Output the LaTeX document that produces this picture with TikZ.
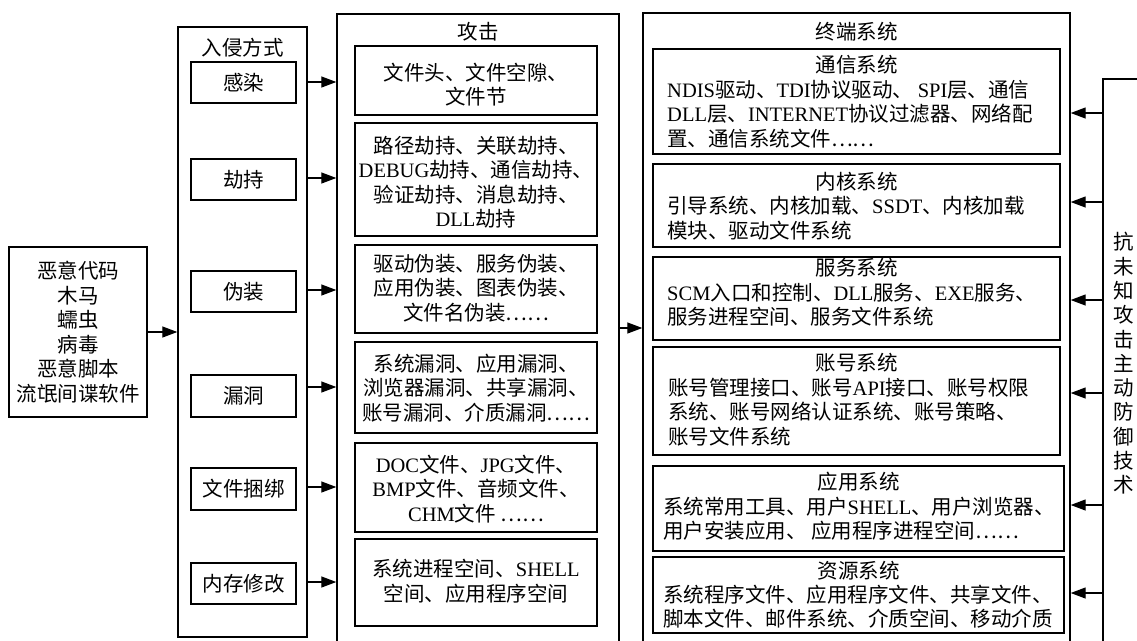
\documentclass[tikz,border=0pt]{standalone}
\usepackage{fontspec}
\setmainfont{Noto Sans CJK SC}
\newfontfamily\latfont{Liberation Serif}
\newcommand\E[1]{{\latfont #1}}
\usetikzlibrary{arrows.meta}
\begin{document}
\begin{tikzpicture}[x=1pt,y=-1pt,
  box/.style={draw,line width=1.4pt,inner sep=0pt},
  txt/.style={inner sep=0pt,font=\fontsize{20.5}{24.5}\selectfont},
  arr/.style={line width=1.3pt,-{Triangle[length=15pt,width=11pt]}}]
\clip (0,0) rectangle (1137,640);
% malware box
\node[box,txt,align=center,minimum width=138pt,minimum height=170pt] (mal) at (78,332)
  {恶意代码\\木马\\蠕虫\\病毒\\恶意脚本\\流氓间谍软件};
% intrusion column
\node[box,minimum width=129pt,minimum height=610pt] (qin) at (242.5,332) {};
\node[txt] (qint) at (242.5,48) {入侵方式};
\node[box,txt,minimum width=105pt,minimum height=41pt] (q1) at (243.5,82.5) {感染};
\node[box,txt,minimum width=105pt,minimum height=41pt] (q2) at (243.5,179.5) {劫持};
\node[box,txt,minimum width=105pt,minimum height=41pt] (q3) at (243.5,291.5) {伪装};
\node[box,txt,minimum width=105pt,minimum height=42pt] (q4) at (243.5,396) {漏洞};
\node[box,txt,minimum width=105pt,minimum height=42pt] (q5) at (243.5,489) {文件捆绑};
\node[box,txt,minimum width=105pt,minimum height=41pt] (q6) at (243.5,583.5) {内存修改};
% attack column
\node[box,minimum width=282pt,minimum height=646pt] (gong) at (478,337) {};
\node[txt] (gongt) at (478,32) {攻击};
\node[box,minimum width=242pt,minimum height=69pt] (g1) at (476,80.5) {};
\node[txt,align=center] (g1t) at (476,84.5) {文件头、文件空隙、\\文件节};
\node[box,minimum width=242pt,minimum height=113pt] (g2) at (476,179.5) {};
\node[txt,align=center] (g2t) at (476,182) {路径劫持、关联劫持、\\\E{DEBUG}劫持、通信劫持、\\验证劫持、消息劫持、\\\E{DLL}劫持};
\node[box,minimum width=242pt,minimum height=88pt] (g3) at (476,289) {};
\node[txt,align=center] (g3t) at (476,288) {驱动伪装、服务伪装、\\应用伪装、图表伪装、\\文件名伪装……};
\node[box,minimum width=242pt,minimum height=91pt] (g4) at (476,387.5) {};
\node[txt,align=center] (g4t) at (476,388) {系统漏洞、应用漏洞、\\浏览器漏洞、共享漏洞、\\账号漏洞、介质漏洞……};
\node[box,minimum width=242pt,minimum height=89pt] (g5) at (476,487.5) {};
\node[txt,align=center] (g5t) at (476,489) {\E{DOC}文件、\E{JPG}文件、\\\E{BMP}文件、音频文件、\\\E{CHM}文件 ……};
\node[box,minimum width=242pt,minimum height=87pt] (g6) at (476,582.5) {};
\node[txt,align=center] (g6t) at (476,581) {系统进程空间、\E{SHELL}\\空间、应用程序空间};
% terminal column
\node[box,minimum width=427pt,minimum height=647pt] (term) at (856.5,336.5) {};
\node[txt] (termt) at (856.5,32) {终端系统};
\node[box,minimum width=407pt,minimum height=105pt] (t1) at (856.5,101.5) {};
\node[txt] (t1h) at (856.5,65) {通信系统};
\node[txt,align=left,anchor=west] (t1b) at (667,114) {\E{NDIS}驱动、\E{TDI}协议驱动、 \E{SPI}层、通信\\\E{DLL}层、\E{INTERNET}协议过滤器、网络配\\置、通信系统文件……};
\node[box,minimum width=407pt,minimum height=83pt] (t2) at (856.5,205.5) {};
\node[txt] (t2h) at (856.5,182) {内核系统};
\node[txt,align=left,anchor=west] (t2b) at (667,218) {引导系统、内核加载、\E{SSDT}、内核加载\\模块、驱动文件系统};
\node[box,minimum width=407pt,minimum height=83pt] (t3) at (856.5,298.5) {};
\node[txt] (t3h) at (856.5,268) {服务系统};
\node[txt,align=left,anchor=west] (t3b) at (667,304.5) {\E{SCM}入口和控制、\E{DLL}服务、\E{EXE}服务、\\服务进程空间、服务文件系统};
\node[box,minimum width=407pt,minimum height=108pt] (t4) at (856.5,401) {};
\node[txt] (t4h) at (856.5,363) {账号系统};
\node[txt,align=left,anchor=west] (t4b) at (668,412) {账号管理接口、账号\E{API}接口、账号权限\\系统、账号网络认证系统、账号策略、\\账号文件系统};
\node[box,minimum width=411pt,minimum height=85pt] (t5) at (858.5,508.5) {};
\node[txt] (t5h) at (858.5,482) {应用系统};
\node[txt,align=left,anchor=west] (t5b) at (663,518.5) {系统常用工具、用户\E{SHELL}、用户浏览器、\\用户安装应用、 应用程序进程空间……};
\node[box,minimum width=411pt,minimum height=76pt] (t6) at (858.5,595) {};
\node[txt] (t6h) at (858.5,571) {资源系统};
\node[txt,align=left,anchor=west] (t6b) at (663,606.5) {系统程序文件、应用程序文件、共享文件、\\脚本文件、邮件系统、介质空间、移动介质};
% defence label
\node[inner sep=0pt,align=center,font=\fontsize{20.5}{24.3}\selectfont] (def) at (1124,363.5)
  {抗\\未\\知\\攻\\击\\主\\动\\防\\御\\技\\术};
% connectors
\draw[arr] (mal.east) -- (mal.east -| qin.west);
\foreach \y in {82,178,290,387,487,582} {
  \coordinate (ty) at (0,\y);
  \draw[arr] (qin.east |- ty) -- (gong.west |- ty);
}
\coordinate (ga) at (0,328);
\draw[arr] (gong.east |- ga) -- (term.west |- ga);
\coordinate (rend) at (1137,79);
\coordinate (rtop) at (1103,79);
\coordinate (rbot) at (1103,650);
\draw[line width=1.3pt] (rend) -- (rtop) -- (rbot);
\foreach \y in {113,202,300,393,505,593} {
  \coordinate (ry) at (1103,\y);
  \draw[arr] (ry) -- (ry -| term.east);
}
\end{tikzpicture}
\end{document}
